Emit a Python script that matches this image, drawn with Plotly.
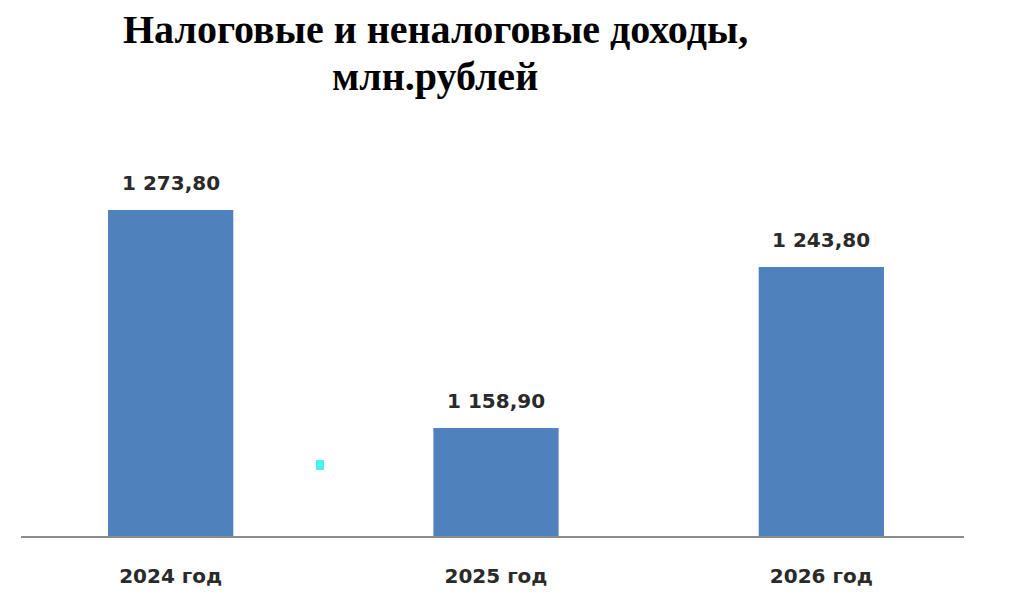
import plotly.graph_objects as go

categories = ["2024 год", "2025 год", "2026 год"]
values = [1273.80, 1158.90, 1243.80]
title_lines = ["Налоговые и неналоговые доходы,", "млн.рублей"]


def fmt(v):
    return f"{v:,.2f}".replace(",", " ").replace(".", ",")


# page body has an 8px margin; figure coords = screen coords - 8
OFF = 8
PLOT_LEFT, PLOT_RIGHT = 8, 984   # screen px
PLOT_TOP, PLOT_BOT = 158, 537    # screen px


def px(screen_x):
    return (screen_x - PLOT_LEFT) / (PLOT_RIGHT - PLOT_LEFT)


def py(screen_y):
    return (PLOT_BOT - screen_y) / (PLOT_BOT - PLOT_TOP)


label_font = dict(family="DejaVu Sans, Verdana, sans-serif", size=20, color="#2a2a2a")

fig = go.Figure()
fig.add_trace(go.Bar(
    x=categories,
    y=values,
    marker=dict(color="#4F81BD", line=dict(width=0)),
    width=0.385,
    hoverinfo="skip",
))

for c, v in zip(categories, values):
    fig.add_annotation(
        x=c, y=v, xref="x", yref="y", text="<b>" + fmt(v) + "</b>", showarrow=False,
        yanchor="bottom", yshift=13, font=label_font,
    )

# title, one annotation per line
title_font = dict(family="Liberation Serif, Times New Roman, serif", size=40, color="#000000")
for line, cy in zip(title_lines, [29.5, 76.5]):
    fig.add_annotation(
        x=px(435), y=py(cy), xref="paper", yref="paper",
        text="<b>" + line + "</b>", showarrow=False,
        xanchor="center", yanchor="middle", font=title_font,
    )

# category axis line (shorter than the plot area)
fig.add_shape(type="line", xref="paper", yref="paper",
              x0=px(21), x1=px(964), y0=0, y1=0,
              line=dict(color="#8C8C8C", width=2), layer="above")

# small cyan artifact
fig.add_shape(type="rect", xref="paper", yref="paper",
              x0=px(316), x1=px(324), y0=py(470), y1=py(460),
              fillcolor="#4DF0F5", line=dict(width=0))

fig.update_layout(
    width=1024, height=600,
    margin=dict(l=PLOT_LEFT - OFF, r=1024 - PLOT_RIGHT + OFF,
                t=PLOT_TOP - OFF, b=600 - PLOT_BOT + OFF),
    paper_bgcolor="white", plot_bgcolor="white",
    showlegend=False,
    xaxis=dict(
        range=[-0.5, 2.5], showline=False,
        ticks="", showgrid=False, zeroline=False, ticklabelstandoff=25,
        tickvals=categories, ticktext=["<b>" + c + "</b>" for c in categories],
        tickfont=label_font,
    ),
    yaxis=dict(range=[1101.4, 1301.2], visible=False, showgrid=False, zeroline=False),
)
fig.layout.margin.autoexpand = False

fig.write_html("out.html")
